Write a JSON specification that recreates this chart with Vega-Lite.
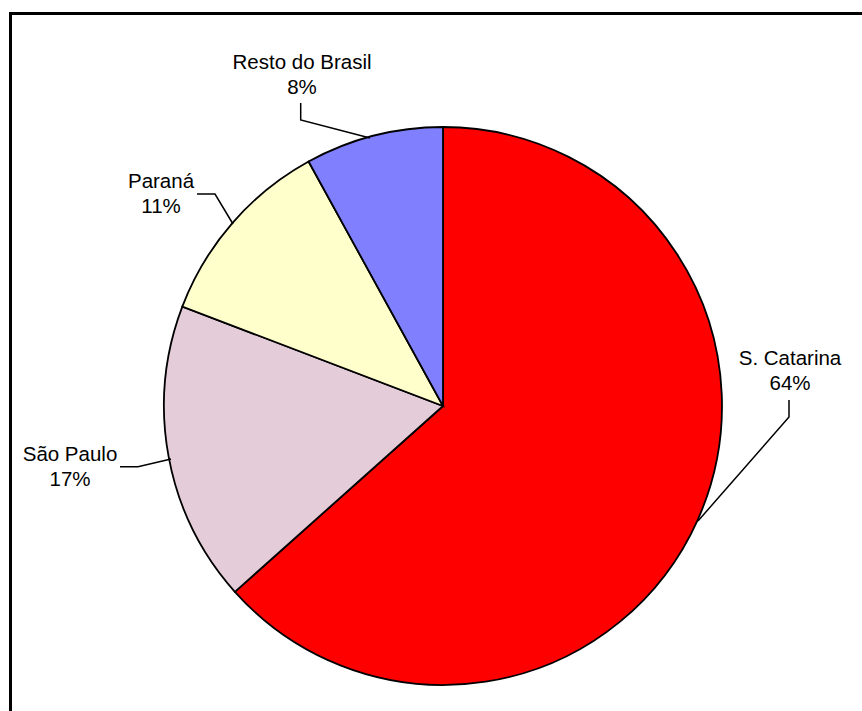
{
  "$schema": "https://vega.github.io/schema/vega-lite/v6.json",
  "width": 865,
  "height": 785,
  "autosize": {"type": "none"},
  "padding": {"left": 10.5, "top": 13.5, "right": -13.5, "bottom": -87.5},
  "background": "white",
  "config": {"view": {"stroke": "black", "strokeWidth": 3}},
  "datasets": {
    "slices": [
      {"state": "S. Catarina", "share": 63.4, "ord": 1},
      {"state": "São Paulo", "share": 17.4, "ord": 2},
      {"state": "Paraná", "share": 11.2, "ord": 3},
      {"state": "Resto do Brasil", "share": 8.0, "ord": 4}
    ],
    "labels": [
      {"state": "S. Catarina", "label": "S. Catarina\n64%", "x": 347, "y": 41},
      {"state": "São Paulo", "label": "São Paulo\n17%", "x": -373, "y": -55},
      {"state": "Paraná", "label": "Paraná\n11%", "x": -282, "y": 218},
      {"state": "Resto do Brasil", "label": "Resto do Brasil\n8%", "x": -141, "y": 337}
    ],
    "leaders": [
      {"state": "Resto do Brasil", "step": 1, "x": -142.3, "y": 303},
      {"state": "Resto do Brasil", "step": 2, "x": -142.3, "y": 286},
      {"state": "Resto do Brasil", "step": 3, "x": -73, "y": 268},
      {"state": "Paraná", "step": 1, "x": -246, "y": 212},
      {"state": "Paraná", "step": 2, "x": -228, "y": 212},
      {"state": "Paraná", "step": 3, "x": -210, "y": 182},
      {"state": "São Paulo", "step": 1, "x": -323, "y": -60.7},
      {"state": "São Paulo", "step": 2, "x": -305, "y": -60.7},
      {"state": "São Paulo", "step": 3, "x": -272, "y": -53},
      {"state": "S. Catarina", "step": 1, "x": 346, "y": 6},
      {"state": "S. Catarina", "step": 2, "x": 346, "y": -11},
      {"state": "S. Catarina", "step": 3, "x": 255, "y": -115}
    ]
  },
  "layer": [
    {
      "data": {"name": "slices"},
      "mark": {"type": "arc", "outerRadius": 279, "stroke": "black", "strokeWidth": 1.8},
      "encoding": {
        "theta": {"field": "share", "type": "quantitative", "stack": true},
        "order": {"field": "ord", "type": "quantitative"},
        "color": {
          "field": "state",
          "type": "nominal",
          "scale": {
            "domain": ["S. Catarina", "São Paulo", "Paraná", "Resto do Brasil"],
            "range": ["#FF0000", "#E4CCD9", "#FFFFCC", "#8080FF"]
          },
          "legend": null
        }
      }
    },
    {
      "data": {"name": "leaders"},
      "mark": {"type": "line", "color": "black", "strokeWidth": 1.5},
      "encoding": {
        "x": {"field": "x", "type": "quantitative", "scale": {"domain": [-432.5, 432.5], "nice": false, "zero": false}, "axis": null},
        "y": {"field": "y", "type": "quantitative", "scale": {"domain": [-392.5, 392.5], "nice": false, "zero": false}, "axis": null},
        "detail": {"field": "state", "type": "nominal"},
        "order": {"field": "step", "type": "quantitative"}
      }
    },
    {
      "data": {"name": "labels"},
      "mark": {"type": "text", "font": "Liberation Sans", "fontSize": 20.5, "lineHeight": 25, "lineBreak": "\n", "align": "center", "baseline": "alphabetic", "color": "black"},
      "encoding": {
        "x": {"field": "x", "type": "quantitative", "scale": {"domain": [-432.5, 432.5], "nice": false, "zero": false}, "axis": null},
        "y": {"field": "y", "type": "quantitative", "scale": {"domain": [-392.5, 392.5], "nice": false, "zero": false}, "axis": null},
        "text": {"field": "label", "type": "nominal"}
      }
    }
  ]
}
